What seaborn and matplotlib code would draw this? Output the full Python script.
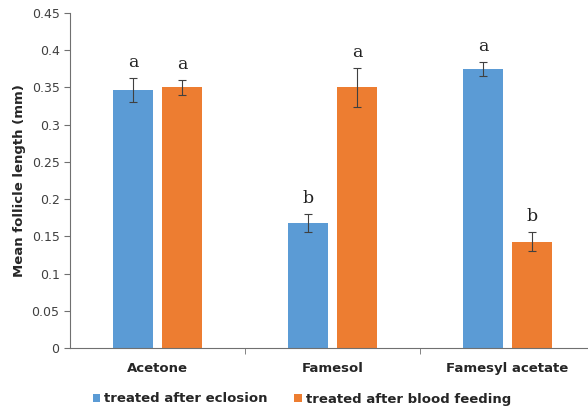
import pandas as pd
import numpy as np
import seaborn as sns
import matplotlib.pyplot as plt
from matplotlib.ticker import FixedLocator

# data
treatments = ["Acetone", "Famesol", "Famesyl acetate"]
groups = ["treated after eclosion", "treated after blood feeding"]
eclosion_mean = [0.347, 0.168, 0.375]
eclosion_err = [0.016, 0.012, 0.009]
blood_mean = [0.350, 0.350, 0.143]
blood_err = [0.010, 0.026, 0.013]
eclosion_letters = ["a", "b", "a"]
blood_letters = ["a", "a", "b"]

df = pd.DataFrame({
    "treatment": treatments * 2,
    "group": [groups[0]] * 3 + [groups[1]] * 3,
    "length": eclosion_mean + blood_mean,
    "err": eclosion_err + blood_err,
    "letter": eclosion_letters + blood_letters,
})

sns.set_style("white")
plt.rcParams['font.family'] = ['DejaVu Sans']

fig = plt.figure(figsize=(5.88, 4.13), dpi=100)
ax = fig.add_axes([70/588, 1 - 348/413, 525/588, 335/413])

colors = ["#5B9BD5", "#ED7D31"]
sns.barplot(data=df, x="treatment", y="length", hue="group", palette=colors,
            errorbar=None, width=0.56, gap=0.2, ax=ax, saturation=1, legend=True,
            linewidth=0)

# error bars + letters on top of each bar
for cont, g in zip(ax.containers, groups):
    sub = df[df["group"] == g].reset_index(drop=True)
    xs = [p.get_x() + p.get_width() / 2 for p in cont]
    ax.errorbar(xs, sub["length"], yerr=sub["err"], fmt="none",
                ecolor="#404040", elinewidth=0.8, capsize=3, capthick=0.8)
    for x, m, e, l in zip(xs, sub["length"], sub["err"], sub["letter"]):
        ax.text(x, m + e + 0.009, l, ha="center", va="bottom",
                family="DejaVu Serif", fontsize=12.5, color="#222222")

ax.set_ylim(0, 0.45)
ax.set_xlim(-0.5, 2.5)
ax.set_yticks(np.arange(0, 0.451, 0.05))
ax.set_yticklabels(["0", "0.05", "0.1", "0.15", "0.2", "0.25", "0.3", "0.35", "0.4", "0.45"],
                   fontsize=9, color="#404040")
ax.set_xlabel("")
ax.set_ylabel("Mean follicle length (mm)", fontsize=9.5, fontweight="bold", labelpad=4)
ax.tick_params(axis="x", which="major", length=0, pad=10)
ax.xaxis.set_minor_locator(FixedLocator([0.5, 1.5]))
ax.tick_params(axis="x", which="minor", length=4, direction="out", color="#707070", bottom=True)
ax.tick_params(axis="y", length=4, direction="out", color="#707070", left=True)
for t in ax.get_xticklabels():
    t.set_fontweight("bold")
    t.set_fontsize(9.5)

sns.despine(ax=ax)
ax.spines["left"].set_color("#707070")
ax.spines["bottom"].set_color("#707070")

handles, labels = ax.get_legend_handles_labels()
ax.get_legend().remove()
fig.legend(handles, labels, loc="center", bbox_to_anchor=(302/588, 1 - 399/413), ncol=2,
           frameon=False, prop={"weight": "bold", "size": 9.5}, handlelength=0.6,
           handleheight=0.6, handletextpad=0.3, columnspacing=2.0)

fig.savefig("out.png", dpi=100)
